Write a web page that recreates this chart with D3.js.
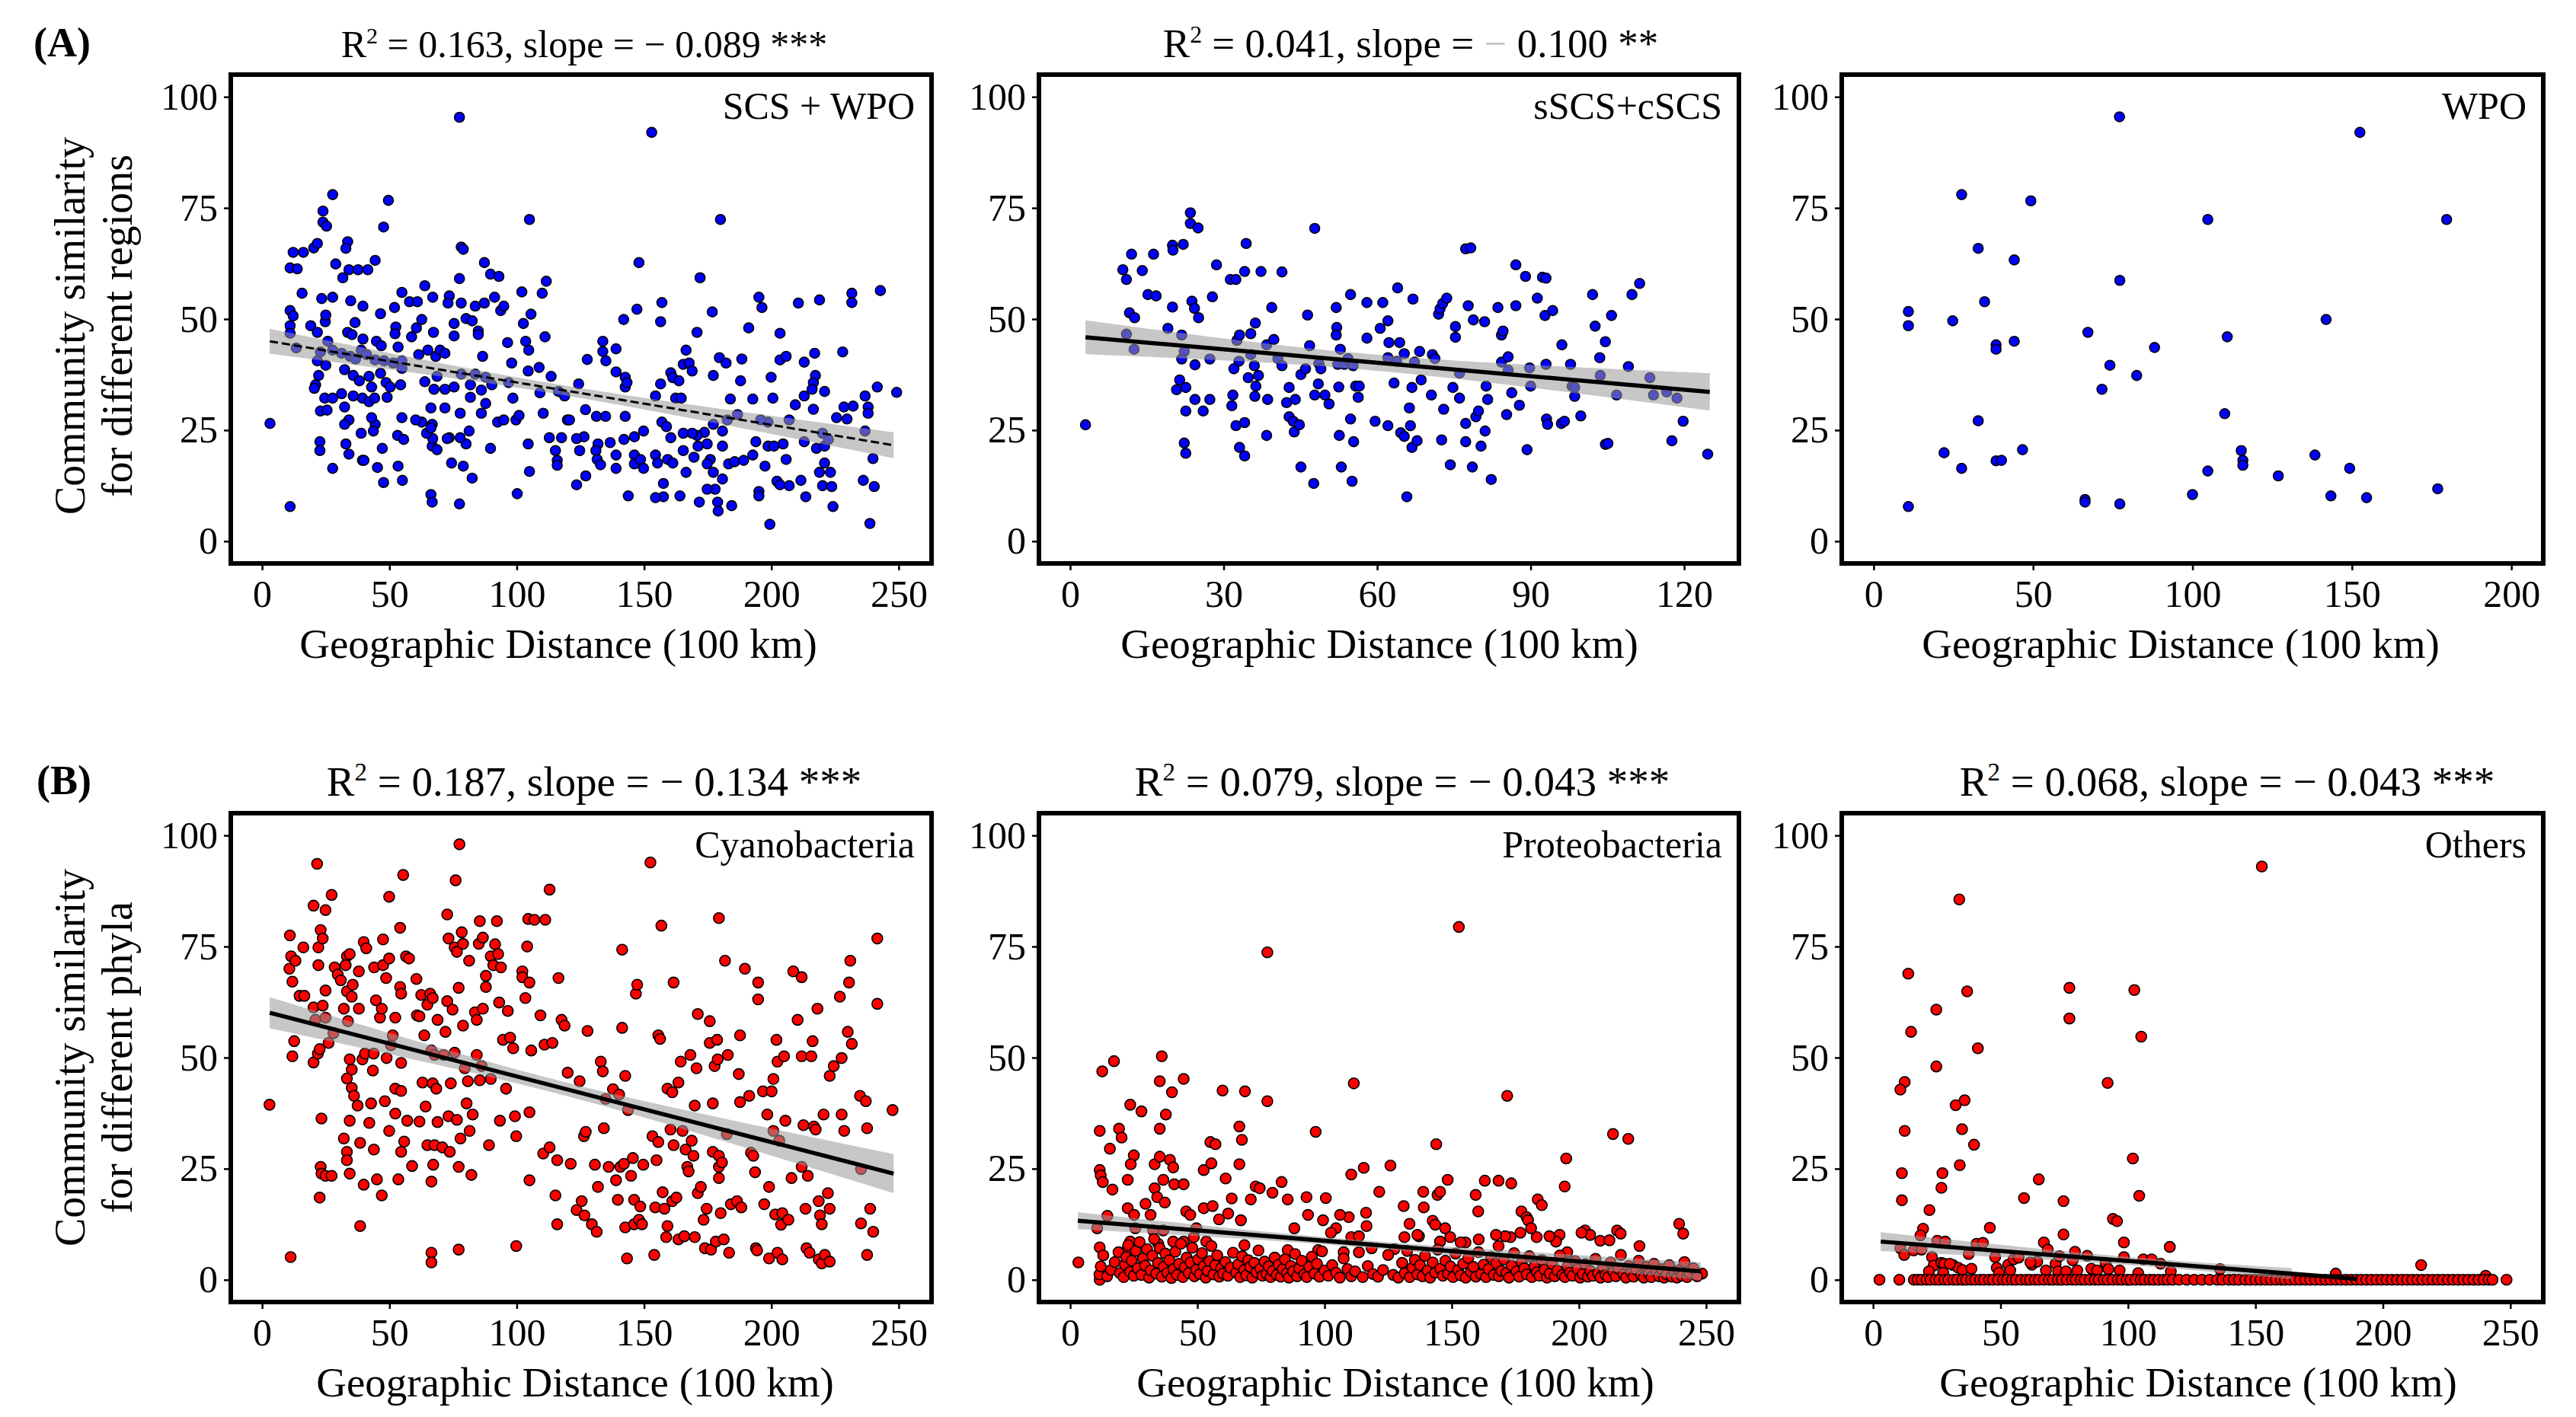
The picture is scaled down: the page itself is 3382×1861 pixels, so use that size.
<!DOCTYPE html>
<html>
<head>
<meta charset="utf-8">
<script src="https://cdn.jsdelivr.net/npm/d3@7"></script>
<style>
  body { margin: 0; background: #fff; }
  svg text { font-family: 'Liberation Serif', 'Times New Roman', serif; }
</style>
</head>
<body>
<svg id="chart" width="3382" height="1861"></svg>
<script>
// ---- data ----
const yTicks = [0, 25, 50, 75, 100];
const xTicks250 = [0, 50, 100, 150, 200, 250];
const xTicks120 = [0, 30, 60, 90, 120];
const xTicks200 = [0, 50, 100, 150, 200];

const tags = ['SCS + WPO', 'sSCS+cSCS', 'WPO', 'Cyanobacteria', 'Proteobacteria', 'Others'];
const r2Vals = ['0.163', '0.041', null, '0.187', '0.079', '0.068'];
const slopeVals = ['0.089', '0.100', null, '0.134', '0.043', '0.043'];
const sigVals = ['***', '**', null, '***', '***', '***'];
const rowLabels = [['Community similarity', 'for different regions'], ['Community similarity', 'for different phyla']];

// fitted line: [x0, x1], [y0, y1], mean x, half-width of the band at x0, at mean, at x1
const fitA1 = { x: [3, 248], y: [45, 21.6], xm: 115, se: [2.8, 1.1, 2.9] };
const fitA2 = { x: [3, 125], y: [45.9, 33.6], xm: 58, se: [3.8, 1.8, 4.2] };
const fitB1 = { x: [3, 248], y: [60.1, 23.9], xm: 115, se: [3.5, 1.5, 4.4] };
const fitB2 = { x: [3, 248], y: [13.3, 1.9], xm: 112, se: [1.9, 0.8, 2.0] };
const fitB3 = { x: [3, 190], y: [8.6, 0.2], xm: 110, se: [2.1, 0.9, 1.6] };

const ptsA1 = [[3.1,26.5],[11,7.8],[77.5,95.4],[153,92],[27.7,78],[49.6,76.7],[47.7,70.7],[23.9,74.3],[23.9,71.8],[25.3,70.9],[105,72.4],[180,72.4],[11,61.5],[13.8,61.3],[12.2,65],[16.2,65],[20.3,66],[21.7,67],[33.6,67.4],[32.9,65.9],[28.9,62.4],[34.1,61.1],[37.7,61.1],[41.5,61.1],[44.4,63.2],[31.7,59.3],[78.2,66.2],[79,65.7],[77.5,59.1],[87.3,62.7],[89.7,60.1],[93,59.6],[148,62.7],[172,59.3],[102,56.1],[110,55.8],[111.6,58.5],[15.7,55.8],[23.4,54.6],[27.7,54.9],[34.8,54.1],[39.6,52.9],[46.5,51.2],[52,52.6],[54.9,56],[57.9,53.9],[61,53.9],[63.9,57.5],[67,54.9],[73.5,55.2],[73,53.6],[78.2,53.6],[83.7,52.9],[87.3,53.6],[91.3,54.9],[93.7,51.9],[94.9,52.9],[105.6,51.1],[102.6,49],[11,51.9],[12.2,50.7],[11,48.5],[11,46.8],[13.4,43.5],[19.1,48.5],[21.7,47],[24.8,49.4],[25,50.9],[33.6,47],[36.5,49.2],[35.3,46.5],[39.6,45.5],[38.9,43],[44.9,45],[46.8,44],[52.5,48.2],[52.2,46.7],[53.4,43.7],[58.7,46],[60.6,48],[62.7,49.9],[67.3,47],[61.5,42],[65.1,43],[68.2,41.6],[69.9,43],[71.8,42.3],[75.4,49],[75.4,46.2],[80.1,50.1],[82.5,49.6],[84.9,47.3],[84.9,46.5],[86.6,41.6],[96.4,44.7],[98,40.1],[103.5,45],[104.7,43],[111.1,46],[108.8,39.1],[104.5,38.3],[25.8,45],[27.7,43],[22.9,42.6],[21.7,40.6],[25,39.6],[31.2,42.3],[34.6,41.6],[36.7,41],[41,42],[44.4,40.8],[47.9,40.6],[51.5,40.1],[54.9,40.6],[54.9,38.9],[32.4,38.6],[35.8,37.3],[38.2,36.1],[42,37.1],[46.5,37.8],[48.7,35.7],[50.3,34.7],[54.4,35.2],[63.9,35.9],[67.5,34.2],[68.7,37.1],[71.8,34.2],[75.4,34.7],[78.2,37.6],[81.8,35.2],[83.7,37.6],[86.1,34],[87.8,36.9],[90.2,35.2],[96.8,35.7],[98.5,32.2],[109.1,33.4],[113.5,37.1],[116.4,33.7],[118.8,32.7],[124.3,35.4],[21,35.2],[20.5,34.4],[22.2,37.3],[24.6,32.2],[27.7,32.2],[31.2,33.2],[35.8,32.7],[39.4,32.2],[43,34.7],[42,31.4],[44.2,32.2],[22.9,29.3],[25.5,29.5],[32.4,30.2],[49.1,32.4],[66.3,30],[71.8,30],[77.8,28.8],[81.8,32.4],[86.1,28.8],[87.8,31],[92.5,26.8],[94.9,27.3],[99.7,27.3],[100.9,28.3],[110.4,28.8],[119.9,27.3],[127,29.6],[131.3,28.1],[134.9,28.1],[142.6,28.1],[127.7,40.9],[133.8,42.7],[133.8,45],[135,40.6],[139,43.3],[139,38.1],[142.6,36.9],[142.6,34.7],[142,49.9],[147.2,52.2],[157,53.7],[156.5,49.4],[143.3,35.7],[154.5,32.7],[156.5,35.4],[160.5,37.9],[161.3,36.8],[163.7,36.1],[166.5,43],[165.4,39.8],[167.7,40.1],[168.9,38.3],[162.4,32.2],[164.6,32.2],[170.8,47],[176.8,51.6],[177.2,37.3],[179.6,41.3],[182.2,40.1],[187.9,36.1],[188.4,41],[183.9,32],[191.1,48],[195.1,54.9],[196.3,52.6],[203.4,46.8],[192.7,32],[200.6,32.2],[199.9,36.9],[203.4,40.8],[205.8,41.6],[210.6,53.6],[218.9,54.3],[231.6,55.8],[231.6,53.7],[242.8,56.4],[217,42.3],[217.3,37.3],[216.5,35.7],[216,34.2],[212.9,32.7],[212.9,40.3],[228,42.6],[228.5,30.2],[232.1,30.4],[236.8,32.7],[238,30.2],[238,28.8],[241.6,34.7],[249.2,33.5],[220.9,33.7],[216.5,29.7],[209.4,30.7],[207,27.3],[198.7,26.8],[195.8,27.3],[186.7,28.5],[182.7,27.3],[180.8,24.8],[177.2,26.3],[173.7,24.5],[170.8,23.8],[168.9,24.3],[165.4,24.3],[160.5,23.3],[157,26.8],[158.8,25.8],[149.8,24.8],[146.2,23.5],[142.1,22.9],[136.7,22.2],[131.9,21.9],[126.4,23.5],[120.7,27.3],[123.5,23.1],[117.6,23.3],[112.8,23.3],[115.2,20.4],[115.9,18.2],[115.9,17.1],[124.7,20.4],[131.1,20.4],[131.6,18.4],[132.9,17.2],[127.1,14.7],[123.5,12.7],[139,19.4],[139,16.4],[146.2,19.4],[146.2,17.4],[148.6,18.4],[149.8,16.4],[154.5,19.4],[155.3,17.6],[159.3,18.4],[161.3,17.6],[165.4,20.4],[166.5,15.5],[169.6,18.9],[171.2,21.4],[174.8,21.9],[176,18.4],[174.8,17.4],[177.2,15.5],[180.8,21.4],[180.8,14],[183.2,17.4],[185.6,17.9],[189.1,18.2],[192.7,19.4],[193.9,22.4],[198.7,21.4],[201,21.4],[204.6,21.9],[205.8,18.4],[197.5,16.9],[202.2,13.5],[203.4,12.7],[207,12.5],[195.1,11.2],[195.1,10.2],[211.6,13.7],[213.5,10],[212.9,22.4],[217.7,20.9],[220.9,21.4],[220.1,24.3],[222.4,22.9],[220.9,17.6],[218.9,15.5],[223.2,15.5],[220.1,12.5],[223.7,12.3],[224.2,7.8],[199.4,3.8],[238.7,4],[236.1,13.7],[240.4,12.3],[239.9,18.6],[236.8,24.8],[225.6,27.8],[229.7,27.5],[177.9,11.7],[174.8,11.7],[178.9,8.8],[179.1,6.8],[184.4,8],[171.7,8.8],[164.1,10.2],[157.6,10],[154.5,9.8],[143.8,10.2],[157.6,13],[104.5,21.9],[105,15.7],[100.2,10.7],[89.7,20.9],[81.3,24.8],[80.1,21.9],[77.8,23.3],[73.5,23.3],[79,16.9],[74.4,17.6],[82.5,14.2],[77.5,8.4],[66.3,10.5],[66.8,8.8],[66.8,21.4],[67,23.1],[66.8,26.3],[62.7,26.8],[64.6,24.3],[66.3,25.5],[60.3,27.3],[54.9,27.8],[53.2,23.8],[55.6,22.9],[44.4,26.3],[43,27.8],[43.7,24.8],[38.9,24.3],[34.1,27.3],[32.4,26.3],[22.7,22.4],[22.7,20.4],[32.9,21.9],[34.1,19.6],[39.4,18.2],[40,18.2],[47.2,20.9],[45.3,16.6],[53.4,16.9],[27.7,16.4],[47.7,13.2],[55.1,13.7],[68.7,20.6],[72.7,23.1]];

const ptsA2 = [[3,26.2],[10.3,61.1],[11,58.9],[12,64.6],[14.1,60.9],[16.3,64.6],[15.2,55.5],[16.8,55.2],[11,46.6],[11.6,51.4],[12.6,50.3],[12.5,43.2],[20,66.6],[20.1,65.5],[22.1,66.8],[20,52.7],[19.1,47.9],[21.8,46.4],[22.3,42.7],[21.8,41],[20.8,34.1],[21.4,36.3],[22.6,34.6],[22.6,29.3],[22.3,22.1],[22.6,19.8],[23.5,73.9],[23.5,71.5],[25,70.5],[23.8,54],[24.3,52.4],[25.1,50.3],[24.4,39.7],[24.4,31.9],[26,29.3],[27.3,31.9],[27.3,41],[27.8,55],[28.6,62.2],[31.3,58.9],[32.4,58.9],[34.4,67],[34.1,60.7],[37.3,60.7],[41.4,60.6],[32,38.8],[31.8,32.9],[31.6,30.5],[32.4,26],[32.6,45.2],[33.1,46.4],[33,40.5],[33.1,21.1],[34.1,19.2],[34.1,26.7],[34.8,36.8],[35.3,46.7],[35.3,42],[36.2,49.1],[36,39.5],[36.1,32.6],[36.3,34.9],[36.8,37.3],[38.4,44.2],[38.6,31.9],[38.4,23.8],[39.4,52.6],[39.8,45.4],[40.6,41.1],[41.4,39.5],[42.3,31.2],[42.8,34.6],[42.8,28],[43.6,27],[44,31.9],[43.8,24.6],[44.8,26.2],[45.1,37.5],[45.1,16.7],[46,38.8],[46.4,50.9],[46.8,44],[47.8,70.4],[47.6,13],[47.8,32.9],[48.5,35.4],[48.6,40],[49,38.8],[49.8,32.9],[50.6,30.9],[52,52.6],[52.1,48.1],[52,46.4],[52.3,39.8],[52.5,34.7],[52.8,43.2],[52.6,23.8],[53,16.7],[53.6,39.8],[54.3,41.1],[54.8,55.5],[54.8,27.5],[55.4,22.4],[55.1,13.5],[55.3,39.5],[55.8,34.9],[56.3,32.4],[56.5,34.9],[58,53.7],[58,45.7],[59.6,27],[60.6,47.9],[61.1,53.7],[62.1,49.6],[62.3,44.7],[62.1,41.3],[62.1,26],[63.3,35.6],[63.8,40.5],[64,57],[64.4,44.7],[64.6,24.4],[65.3,42.2],[65.3,23.6],[65.8,10],[66.3,30],[66.5,26],[66.8,34.6],[66.8,21.1],[67,54.5],[67.3,40.3],[67.8,22.6],[68.3,42.7],[68.6,36.3],[70.6,32.9],[70.8,42],[71.3,41.1],[72,51.1],[72.3,52.3],[72.6,22.8],[73,29.7],[72.8,53.5],[73.6,54.7],[74.3,17.2],[74.8,34.6],[75.3,48.3],[75.3,45.9],[76.1,37.8],[76.1,32.2],[77.3,26.5],[77.3,22.4],[77.3,65.8],[78.3,66],[77.8,53],[78.8,49.8],[78.6,16.7],[79.3,28],[79.8,29.3],[80.3,21.4],[81,49.4],[81.3,34.9],[81.6,31.9],[81.1,24.8],[82.3,13.9],[83.6,52.6],[84.3,46.4],[84.3,40.3],[84.6,47.3],[85.6,41.5],[85.6,38.5],[85.3,28.5],[86.3,33.4],[87.1,53],[87.1,62.2],[87.8,30.6],[89,59.6],[89.3,20.6],[89.8,39],[90,34.9],[91.3,54.7],[92.3,59.4],[93,59.2],[92.8,50.8],[93,39.8],[93.1,27.5],[93.3,26.3],[94.3,51.9],[96,26.5],[96.6,27],[96.1,44.2],[97.8,39.8],[98.1,34.9],[98.6,32.6],[98.6,34.6],[99.8,28.2],[102.1,55.5],[102.6,48.4],[103.5,41.3],[103.6,37.3],[104.6,44.9],[104.6,21.8],[105.1,22],[105.8,50.8],[106.8,32.9],[109.1,39.3],[109.8,55.5],[111.3,58],[113.3,36.8],[114,32.9],[116.6,33.6],[117.6,22.6],[118.6,32.2],[119.8,27],[124.6,19.6]];

const ptsA3 = [[10.9,51.7],[10.9,48.5],[10.9,7.8],[22.1,19.9],[24.8,49.6],[27.6,78],[27.6,16.4],[32.8,65.9],[32.8,27.1],[34.8,53.9],[38.4,44.2],[38.4,43.2],[38.4,18.1],[40.1,18.2],[44.1,63.3],[44.1,45],[46.7,20.6],[49.3,76.6],[66.3,9.4],[66.3,8.8],[67.2,47],[71.6,34.2],[74.1,39.6],[77.1,95.5],[77.2,58.7],[77.2,8.4],[82.5,37.3],[88.1,43.6],[100,10.5],[104.8,72.4],[104.8,15.8],[110.1,28.7],[110.9,46],[115.3,20.4],[115.8,18.2],[115.8,17.1],[126.9,14.7],[138.4,19.4],[141.9,49.9],[143.4,10.2],[149.3,16.4],[152.5,92],[154.6,9.8],[176.9,11.8],[179.7,72.4]];

const ptsB1 = [[2.9,39.4],[11.2,5.1],[10.9,77.5],[10.7,70],[11.4,72.8],[11.9,67.1],[13.1,71.8],[12.6,53.7],[11.9,50.3],[14.7,63.9],[16.2,74.8],[16.6,63.9],[20.2,61.3],[20.2,84.2],[21.6,93.6],[22.1,74.8],[22.1,70.8],[23,78.7],[23.8,76.8],[24.9,83.2],[27.3,86.6],[23.8,61.7],[24.9,65.1],[20.9,58.5],[20.2,48.9],[21.9,50.9],[22.6,51.9],[23.3,36.3],[22.6,18.5],[23,25.4],[23.3,23.9],[24.9,59],[26.1,53.3],[28,55.5],[24.9,23.4],[27.3,23.4],[28.5,70.3],[29.7,68.7],[30.9,67.4],[33.3,72.8],[34.4,73.3],[32.8,70.8],[33.3,64.9],[35.2,63.7],[35.6,66.4],[32.1,61],[33.7,58.2],[34.4,49.6],[35.2,47.3],[33.3,45.3],[35.2,43.2],[36.1,41.4],[37.5,39.2],[34.4,35.8],[32.1,31.8],[33.3,28.8],[33.3,26.9],[34.4,23.9],[38,69.4],[38,61],[39.9,76],[40.9,74.6],[39.4,49.6],[40.4,50.9],[38.5,30.8],[39.9,21.4],[38.5,12.1],[42.8,39.7],[42.1,35.3],[44,70.3],[44.7,62.9],[43.5,47.1],[43.8,50.9],[43.9,29.3],[45.1,22.6],[46.3,59],[47,61],[47.5,76.6],[47.5,70.8],[48.7,67.9],[47,19],[48.2,40.2],[49.9,86.2],[49.9,72.3],[50.6,52.8],[51.3,55],[49.9,33.5],[48.9,49.9],[52.3,59],[52.3,43],[52.3,37.4],[53.5,22.6],[54.2,79.2],[54.2,65.9],[54.6,64.4],[54.6,42.5],[54.6,28.8],[55.4,91.1],[54.6,48.8],[55.8,31.1],[56.5,72.8],[57,35.8],[57.7,72.3],[58.9,25.6],[60.6,67.7],[60.8,59.5],[61.8,59.3],[61.8,35.6],[62.5,64.1],[63,44.4],[63.7,55],[64.2,39],[64.9,30.3],[64.9,61.9],[66,64.4],[66.5,51.6],[67,63.4],[66.5,22.1],[66.5,6.1],[66.5,3.9],[67,44.2],[67.2,25.9],[67.7,50.6],[67.7,30.3],[68.4,43],[68.9,58.5],[68.9,35.5],[70.8,29.8],[71.3,50.6],[72,55.8],[72.7,62.7],[72.7,82.2],[73.2,76.8],[73.2,36.8],[73.7,28.8],[74.1,44.2],[74.8,60.8],[75.6,74.8],[75.6,51.1],[76,89.9],[76.5,73.8],[76.5,36],[77.2,65.7],[77.2,25.4],[77.2,6.8],[77.5,98],[77.9,31.8],[78.4,78.2],[78.9,75.6],[78.9,57.2],[79.6,47.6],[80.3,39.7],[80.8,44.7],[81.3,71.8],[81.5,33.5],[82.2,23.6],[82.7,37.2],[83.6,60.2],[84.3,58.5],[84.3,50.6],[85.1,75.6],[85.5,80.7],[85.5,44.9],[86.2,48.1],[86.7,61],[86.7,77],[87.9,68.4],[87.9,65.9],[89.1,30.3],[89.8,45.2],[89.8,72.8],[90.8,70.8],[91.5,75.5],[92.2,80.7],[92.7,73.3],[93.1,62.4],[93.4,35.8],[93.8,70.3],[94.6,54],[95.8,43],[96.5,60.5],[97.4,54.5],[98.6,52.1],[99.3,36.8],[99.8,7.6],[99.8,32.3],[102.2,69.4],[102.2,68.1],[103.4,63.4],[104.1,75],[104.5,81.2],[105,66.9],[105,37.7],[105,22.4],[105.7,51.6],[106.9,81],[109.3,59.5],[110.4,28.4],[111.2,81],[110.9,52.9],[112.9,29.8],[112.9,87.8],[114,53.3],[115.2,19],[115.9,12.5],[115.9,26.9],[116.4,67.9],[117.6,58.5],[118.8,57.2],[120,46.6],[121.2,26.1],[123.5,15.7],[124.7,44.7],[125.5,17.7],[126.4,32.3],[126.6,14.5],[127.1,33.3],[127.8,56],[129.5,12.5],[130.7,25.9],[131.4,10.8],[131.9,20.9],[133,49.1],[133.8,46.9],[134.2,34.1],[134.9,40.7],[136.1,25.4],[137.8,42.9],[139,22.4],[139.7,18],[140.2,41.7],[140.7,25.4],[141.4,74.3],[141.4,56.7],[142.1,26.1],[142.6,45.9],[142.6,11.8],[143.3,4.8],[143.7,38.2],[144.9,23.4],[145.6,27.4],[146.1,18],[146.1,12.5],[146.8,64.4],[147.3,66.4],[148,13.5],[148.5,16.5],[149.2,12.5],[149.7,25.9],[152.5,93.9],[153.3,32.3],[154,5.6],[154.4,16.3],[154.9,26.9],[155.6,31],[155.6,55],[156.3,54.2],[156.8,79.7],[157.3,19.7],[158,16],[158.7,9.6],[159.2,12.1],[159.2,43],[160.4,33.8],[161.1,42.2],[161.1,17.7],[161.6,66.9],[161.6,30.3],[162.7,18.5],[163.5,44.4],[163.5,9.1],[164.4,49.1],[165.1,33.5],[165.8,9.8],[166.3,29.3],[167,25.4],[167.5,24.4],[168.2,50.6],[168.7,31.3],[169.4,27.9],[169.9,9.6],[169.9,39.2],[170.6,47.6],[171.1,59.8],[171.1,19.5],[172.3,20.9],[173.4,13.5],[173.9,7.1],[174.6,16],[175.8,58.2],[175.8,53.3],[176.3,6.8],[177,28.8],[177,39.7],[177.7,48.1],[178.2,8.6],[178.7,54],[178.9,49.6],[179.4,27.9],[179.4,25.4],[179.4,22.9],[179.4,81.4],[180.1,15],[180.6,26.4],[181.3,9.1],[181.8,71.8],[182.5,32.8],[182.9,50.6],[183.4,6.1],[184.1,17],[186.5,17.7],[187.2,46.3],[187.7,40],[187.7,55],[188.2,16.3],[189.6,70],[191.3,41.4],[192,28.6],[192.9,27.9],[193.6,24.2],[193.9,7.1],[194.4,6.6],[194.8,66.9],[194.8,63.1],[196.7,42.4],[197.2,17],[198.4,37.2],[199.1,20.9],[199.1,4.8],[200.1,42.4],[200.8,45.2],[200.8,33.5],[201.5,14.7],[202,54],[202.4,49.1],[202.4,6.1],[203.1,31.3],[203.8,12.4],[204.3,15],[204.3,4.6],[205,50.3],[205.5,35.8],[206.7,13.5],[207.9,22.9],[208.6,69.4],[210.3,58.5],[211.9,50.3],[211.9,68.1],[211.9,25.4],[212.6,34.8],[213.4,16],[213.8,7.1],[214.3,23.4],[215,6.1],[215.7,50.3],[216.2,53.7],[216.7,34.5],[217.4,33.8],[218.1,61],[218.6,17.7],[218.6,4.6],[219.1,14.5],[219.8,12.5],[219.8,3.7],[220.5,37.2],[221,5.6],[222.2,19.5],[222.9,45.9],[222.9,16],[222.9,4.1],[224.5,48.1],[226.9,63.7],[227.6,49.9],[227.6,37.2],[228.6,33.5],[230,55.8],[230.5,66.9],[231,71.8],[231.6,53.1],[234.8,41.4],[235.2,24.9],[235.2,12.7],[237.1,40.2],[237.6,5.6],[237.6,34.1],[238.8,16],[240,10.8],[241.6,62.1],[241.6,76.8],[247.6,38.2]];

const ptsB2 = [[77.5,73.7],[152.8,79.4],[12.6,46.9],[17.2,49.2],[36,50.3],[35.2,44.7],[44.6,45.2],[40,42.2],[37.6,37.2],[23.6,39.4],[28,37.9],[11.6,33.5],[19.2,34],[20.2,32],[35.2,34],[15.6,29.5],[25,28],[23.8,26],[33.2,26],[35.2,27.7],[39.2,27],[40.5,25.3],[36.6,22.5],[40.9,21.5],[44.6,21.5],[11.6,24.7],[12,23.5],[12.8,22],[16.6,20.3],[22.6,22.5],[22.6,16.1],[25.1,14.6],[29.6,17.1],[31.6,14.6],[33.2,20.6],[34.2,18.6],[37.2,17.4],[45.6,15.4],[47.2,14.6],[59.9,42.6],[68.7,42.4],[77.5,40.2],[55.1,31],[57.1,30.5],[66.5,34.5],[67.5,31.5],[66.5,26],[52.5,24.7],[55.5,26.2],[61.1,22.8],[72.9,21],[74.5,20.6],[83.1,22],[79.5,19.6],[63.5,18.3],[62.1,14.9],[58.5,13.6],[52.5,16.1],[56,16.6],[67.1,13.4],[71,18.1],[85.5,18.1],[92.9,18.6],[100.5,18.4],[96.5,33.3],[111.5,44.2],[110.5,23.7],[115.4,25.2],[121.5,19.8],[125.9,25.7],[131.1,16.6],[133.4,12.6],[137.1,9.8],[138.8,19.8],[139,16.3],[143.9,30.5],[144.4,19.1],[145.4,19.8],[148.4,22.5],[142.5,13.3],[143.5,12.4],[147.4,11.6],[159.4,19.1],[160.4,15.4],[163,22.3],[168.4,22.3],[173.4,21.7],[171.8,41.4],[177.4,15.4],[179.4,14.1],[180,13.4],[183.8,18.1],[185.4,16.8],[195,27.3],[194.4,21],[213.4,32.8],[219.4,31.7],[202.4,11.1],[204.4,10.1],[208.4,8.8],[212,8.9],[215,11.1],[216.4,10.4],[223.8,7.6],[239.4,12.6],[241,10.4],[192.4,10.1],[191,8.6],[188.4,9.8],[183.4,9.6],[173.1,9.6],[171,9.8],[167.4,10.1],[155.4,8.4],[160.6,9.1],[153.5,8.4],[168.4,7.6],[177,10.6],[181.2,11.6],[109.5,14.1],[116.3,15.1],[116.5,12.1],[104.5,11.6],[102.5,10.6],[106.1,14.6],[99.4,13.4],[88.1,11.6],[93.5,14.6],[110.5,9.6],[113.5,9.8],[127.5,6.9],[131.4,9.6],[136.5,10.1],[145.4,8.6],[149.4,9.6],[118.5,7.1],[107.5,6.2],[97.5,6.7],[85.5,6.7],[68.5,7.8],[44.6,8.6],[40.5,8.6],[36.6,11.1],[32.6,11.1],[34.6,8.1],[11.6,7.3],[10.6,11.6],[14.6,14.4],[22.6,7.1],[23.6,8.6],[25.6,11.6],[48.6,9.6],[49.6,11.6],[53.5,8.6],[3.2,3.9],[11.6,0],[201,10.6],[248.4,1.4],[195.4,6.2],
  [11.5,1.2],[12,3],[13,5.5],[14.5,0.8],[16,2.2],[17.5,4],[19,6.2],[19.5,1.5],[21,0.6],[21.5,3.4],[22,5.1],[22.8,7.8],[23.5,1.8],[24.2,4.3],[25,0.9],[25.8,6.5],[26.5,2.6],[27.3,8.5],[28,1.1],[28.6,4.8],[29.5,3.2],[30.2,6.9],[31,0.5],[31.6,2.1],[32.3,5.4],[33,9.2],[33.8,1.4],[34.5,3.8],[35.2,7.1],[36,0.7],[36.7,2.9],[37.4,5.9],[38.2,1.6],[39,4.4],[39.8,0.4],[40.6,2.4],[41.3,6.3],[42,1.1],[42.8,3.6],[43.5,8.1],[44.3,0.6],[45,2.8],[45.8,5],[46.6,1.5],[47.3,3.9],[48,7.2],[48.8,0.8],[49.5,2.3],[50.3,4.6],[51,1.3],[51.8,6],[52.5,3.1],[53.3,0.5],[54,2],[54.8,4.2],[55.5,7.6],[56.3,1.2],[57,3.3],[57.8,5.5],[58.6,0.7],[59.3,2.6],[60.1,1.4],[61,4],[62,0.9],[63,2.7],[64,6.1],[65.2,1.6],[66,3.5],[66.8,0.6],[67.6,5.3],[68.4,2.2],[69.2,1],[70,4.4],[70.8,2.9],[71.6,0.5],[72.4,3.8],[73.2,1.7],[74,6.6],[74.8,2.5],[75.6,0.9],[76.4,4.1],[77.2,1.3],[78,3],[78.8,0.6],[79.6,2],[80.4,5],[81.2,1.1],[82,3.4],[82.8,0.7],[83.6,2.4],[84.4,4.6],[85.2,1.5],[86,0.5],[86.8,3.1],[87.6,1.9],[88.4,5.8],[89.2,0.8],[90,2.6],[91,4.3],[92,1.2],[93,0.6],[94,2.9],[95,5.2],[96,1.4],[97,3.6],[98,0.7],[99,6.4],[100,2.1],[101.5,0.9],[103,3.3],[104.5,1.6],[106,0.5],[107.5,4.8],[109,2.4],[110.5,0.8],[112,1.9],[113.5,6.2],[115,0.6],[117,3.1],[119,1.3],[121,0.7],[123,2.2],[125,5.6],[127,1.1],[129,0.5],[130.5,3.8],[131.5,1.5],[132.5,6.5],[133.5,0.6],[134.5,2.7],[135.5,4.5],[136.5,1.2],[137.5,3.3],[138.5,0.8],[139.5,5.4],[140.5,2.1],[141.5,0.5],[142.5,3.9],[143.5,1.6],[144.5,6.8],[145.5,2.5],[146.5,0.9],[147.5,4.3],[148.5,1.4],[149.5,3],[150.5,0.6],[151.5,5.9],[152.5,2.2],[153.5,1],[154.5,3.6],[155.5,0.5],[156.5,4.9],[157.5,1.8],[158.5,2.9],[159.5,0.7],[160.5,6.2],[161.5,1.3],[162.5,3.4],[163.5,0.6],[164.5,2.4],[165.5,5.1],[166.5,1.1],[167.5,3.7],[168.5,0.8],[169.5,2],[170.5,4.6],[171.5,1.5],[172.5,0.5],[173.5,3.2],[174.5,6],[175.5,1.9],[176.5,0.7],[177.5,4],[178.5,2.6],[179.5,1.2],[180.5,5.3],[181.5,0.6],[182.5,3.1],[183.5,1.7],[184.5,0.9],[185.5,4.4],[186.5,2.3],[187.5,0.5],[188.5,1.4],[189.5,3.6],[190.5,0.8],[191.5,2.1],[192.5,5.5],[193.5,1.1],[194.5,0.6],[195.5,3],[196.5,1.6],[197.5,0.9],[198.5,4.2],[199.5,2.4],[200.5,0.5],[201.5,1.3],[202.5,3.5],[203.5,0.7],[204.5,2],[205.5,0.9],[206.5,4.7],[207.5,1.5],[208.5,0.5],[209.5,2.8],[210.5,1.1],[211.5,0.6],[212.5,3.9],[213.5,1.8],[214.5,0.8],[215.5,2.5],[216.5,5.6],[217.5,1.2],[218.5,0.5],[219.5,3.1],[220.5,1.6],[221.5,0.7],[222.5,2.3],[223.5,4.3],[224.5,1],[225.5,0.5],[226.5,2.9],[227.5,1.4],[228.5,0.6],[229.5,3.6],[230.5,1.9],[231.5,0.8],[232.5,2.4],[233.5,0.5],[234.5,1.2],[235.5,3.3],[236.5,0.7],[237.5,1.7],[238.5,0.5],[239.5,2.2],[240.5,0.9],[241.5,4],[242.5,0.6],[243.5,1.5],[245,2.6],[246.5,0.8]];

const ptsB3 = [[152.5,93],[33.8,85.6],[13.8,68.9],[36.9,64.9],[77,65.7],[102.5,65.2],[24.8,60.8],[77,58.8],[105.2,54.7],[14.9,55.8],[41.1,52.1],[24.8,48],[12.4,44.5],[10.7,42.8],[92,44.3],[32.4,39.3],[35.9,40.4],[34.9,33.9],[12.4,33.5],[39.6,30.4],[101.9,27.3],[34,25.8],[11.3,24],[27.2,24],[26.8,20.7],[65,22.6],[59.2,18.4],[74.7,17.7],[104.4,18.9],[11.3,17.9],[22.1,15.7],[94.1,13.7],[95.7,13.2],[19.6,11.5],[18.6,10],[45.8,11.7],[74.7,10.2],[98.4,8.4],[116.4,7.4],[25.2,8.8],[28.3,8.6],[40.6,8.1],[43.1,8.3],[67,8.4],[68.5,6.8],[10.7,7.1],[12.2,5.6],[15.9,6.6],[19,6.8],[23.1,5.1],[23.7,3.2],[26.8,3.8],[37.5,5.8],[47.9,5.1],[53,3.4],[55.1,4.6],[57.1,5],[62.3,3.4],[64.4,4.1],[71.6,3.6],[72.6,1.9],[79.2,6.3],[84,5.4],[85.6,2.5],[91.2,3.8],[98.4,5.1],[106,4.6],[109.3,4.6],[112.8,3.6],[215,3.3],[181.5,1.4],[240.3,0.9],[31.4,3.3],[33.4,2.7],[35.1,2.2],[38.6,2.5],[27.9,3.6],[104,1.5],[21.9,1.9],[27.5,1.6],[30.1,3.6],[48.5,2.7],[49.4,1.6],[53.8,2.1],[61.7,3.9],[67.8,2.1],[75.7,1.9],[80.1,2.1],[87.9,2.1],[92.3,2.4],[96.7,2.1],[116.8,1.9],[136.1,2.4],[78.3,4.4],[73.1,5.3],
  [2.5,0],[10.3,0],[16,0],[17.5,0],[19,0],[21,0],[22.5,0],[24.5,0],[26,0],[28,0],[29.5,0],[31.5,0],[33,0],[35,0],[36.5,0],[38.5,0],[40,0],[42,0],[43.5,0],[45.5,0],[47,0],[49,0],[51,0],[52.5,0],[54.5,0],[56,0],[58,0],[60,0],[61.5,0],[63.5,0],[65,0],[67,0],[69,0],[70.5,0],[72.5,0],[74,0],[76,0],[78,0],[79.5,0],[81.5,0],[83,0],[85,0],[87,0],[88.5,0],[90.5,0],[92,0],[94,0],[96,0],[97.5,0],[99.5,0],[101,0],[103,0],[105,0],[106.5,0],[108.5,0],[110,0],[112,0],[114,0],[115.5,0],[117.5,0],[120,0],[123,0],[126,0],[129,0],[132,0],[135,0],[137,0],[139.5,0],[141.5,0],[143.5,0],[146,0],[148,0],[150,0],[152,0],[154,0],[156,0],[158,0],[160,0],[161.5,0],[163.5,0],[165.5,0],[167.5,0],[169.5,0],[171.5,0],[173.5,0],[175.5,0],[177.5,0],[179.5,0],[181.5,0],[183.5,0],[185.5,0],[187.5,0],[189.5,0],[191.5,0],[193.5,0],[195.5,0],[197.5,0],[199.5,0],[201.5,0],[203.5,0],[205.5,0],[207.5,0],[209.5,0],[211.5,0],[213.5,0],[215.5,0],[217.5,0],[219.5,0],[221.5,0],[223.5,0],[225.5,0],[227.5,0],[229.5,0],[231.5,0],[233.5,0],[235.5,0],[237.5,0],[239.5,0],[241.5,0],[243,0],[248.5,0]];

// ---- layout ----
const cols = [{ l: 303, r: 1223 }, { l: 1364, r: 2283 }, { l: 2418, r: 3339 }];
const rows = [{ t: 98, b: 740 }, { t: 1068, b: 1710 }];
const yDomain = [-5, 105];
const titleX = [767, 1852, null, 780, 1841, 2924];
const titleSize = [50, 53, null, 55, 55, 55];
const xTitleX = [733, 1811, 2863, 755, 1832, 2886];
const rowLabelShift = [9, 0];
const fontSize = 50;

const panels = [
    { col: 0, row: 0, pts: ptsA1, xDomain: [-12.3, 262.9], xTicks: xTicks250, fit: fitA1, dashed: true },
    { col: 1, row: 0, pts: ptsA2, xDomain: [-6.1, 130.7], xTicks: xTicks120, fit: fitA2, grayMinus: true },
    { col: 2, row: 0, pts: ptsA3, xDomain: [-10, 210], xTicks: xTicks200, fit: null },
    { col: 0, row: 1, pts: ptsB1, xDomain: [-12.3, 262.9], xTicks: xTicks250, fit: fitB1 },
    { col: 1, row: 1, pts: ptsB2, xDomain: [-12.3, 262.9], xTicks: xTicks250, fit: fitB2 },
    { col: 2, row: 1, pts: ptsB3, xDomain: [-12.3, 262.9], xTicks: xTicks250, fit: fitB3, floor: 0 }
];

const svg = d3.select('#chart');
svg.append('rect').attr('width', 3382).attr('height', 1861).attr('fill', '#fff');

function style_axis(g) {
    g.select('.domain').remove();
    g.attr('font-family', null).attr('font-size', null);
    g.selectAll('.tick line').attr('stroke', '#000').attr('stroke-width', 2.5);
    g.selectAll('.tick text').attr('fill', '#000').style('font-size', fontSize + 'px');
}

function band_half(fit, xv) {
    let xe = xv < fit.xm ? fit.x[0] : fit.x[1];
    let se_e = xv < fit.xm ? fit.se[0] : fit.se[2];
    let t = (xv - fit.xm) / (xe - fit.xm);
    return Math.sqrt(fit.se[1] * fit.se[1] + (se_e * se_e - fit.se[1] * fit.se[1]) * t * t);
}

panels.forEach(function (p, i) {
    let c = cols[p.col], r = rows[p.row];
    let x = d3.scaleLinear().domain(p.xDomain).range([c.l, c.r]);
    let y = d3.scaleLinear().domain(yDomain).range([r.b, r.t]);
    let g = svg.append('g').attr('class', 'panel');
    let color = p.row === 0 ? '#0000ff' : '#ff0000';

    g.append('g').attr('transform', 'translate(0,' + r.b + ')')
        .call(d3.axisBottom(x).tickValues(p.xTicks).tickSize(9).tickPadding(12))
        .call(style_axis);
    g.append('g').attr('transform', 'translate(' + c.l + ',0)')
        .call(d3.axisLeft(y).tickValues(yTicks).tickSize(9).tickPadding(8))
        .call(style_axis);

    g.append('g').selectAll('circle')
        .data(p.pts)
        .join('circle')
        .attr('cx', d => x(d[0]))
        .attr('cy', d => y(d[1]))
        .attr('r', p.row === 0 ? 6.5 : 7)
        .attr('fill', color)
        .attr('stroke', '#000')
        .attr('stroke-width', 1.6);

    if (p.fit) {
        let f = p.fit;
        let lineY = d3.scaleLinear().domain(f.x).range(f.y);
        let xs = d3.range(f.x[0], f.x[1], (f.x[1] - f.x[0]) / 80).concat([f.x[1]]);
        let bandArea = d3.area()
            .defined(d => p.floor === undefined || lineY(d) - band_half(f, d) >= p.floor)
            .x(d => x(d))
            .y0(d => y(lineY(d) - band_half(f, d)))
            .y1(d => y(lineY(d) + band_half(f, d)));
        g.append('path').datum(xs)
            .attr('d', bandArea)
            .attr('fill', '#999')
            .attr('fill-opacity', 0.55);
        g.append('line')
            .attr('x1', x(f.x[0])).attr('y1', y(f.y[0]))
            .attr('x2', x(f.x[1])).attr('y2', y(f.y[1]))
            .attr('stroke', '#000')
            .attr('stroke-width', p.dashed ? 3 : 5.5)
            .attr('stroke-dasharray', p.dashed ? '11,5' : null);
    }

    g.append('rect')
        .attr('x', c.l).attr('y', r.t)
        .attr('width', c.r - c.l).attr('height', r.b - r.t)
        .attr('fill', 'none').attr('stroke', '#000').attr('stroke-width', 6);

    g.append('text')
        .attr('x', c.r - 22).attr('y', r.t + 58)
        .attr('text-anchor', 'end')
        .style('font-size', fontSize + 'px')
        .text(tags[i]);

    if (r2Vals[i]) {
        let fs = titleSize[i];
        let t = svg.append('text')
            .attr('x', titleX[i]).attr('y', r.t - 23)
            .attr('text-anchor', 'middle')
            .style('font-size', fs + 'px');
        t.append('tspan').text('R');
        t.append('tspan').attr('dy', -fs * 0.36).style('font-size', (fs * 0.6) + 'px').text('2');
        t.append('tspan').attr('dy', fs * 0.36).text('\u00a0= ' + r2Vals[i] + ', slope = ');
        t.append('tspan').attr('fill', p.grayMinus ? '#c4c4c4' : '#000').text('\u2212');
        t.append('tspan').text('\u00a0' + slopeVals[i] + ' ' + sigVals[i]);
    }

    g.append('text')
        .attr('x', xTitleX[i])
        .attr('y', r.b + 124)
        .attr('text-anchor', 'middle')
        .style('font-size', '55px')
        .text('Geographic Distance (100 km)');
});

// row labels
rows.forEach(function (r, ri) {
    let cy = (r.t + r.b) / 2 + rowLabelShift[ri];
    [111, 173].forEach(function (bx, li) {
        svg.append('text')
            .attr('transform', 'translate(' + bx + ',' + cy + ') rotate(-90)')
            .attr('text-anchor', 'middle')
            .style('font-size', '56px')
            .text(rowLabels[ri][li]);
    });
});

svg.append('text').attr('x', 44).attr('y', 74).style('font-size', '54px').style('font-weight', 'bold').text('(A)');
svg.append('text').attr('x', 48).attr('y', 1043).style('font-size', '54px').style('font-weight', 'bold').text('(B)');
</script>
</body>
</html>
